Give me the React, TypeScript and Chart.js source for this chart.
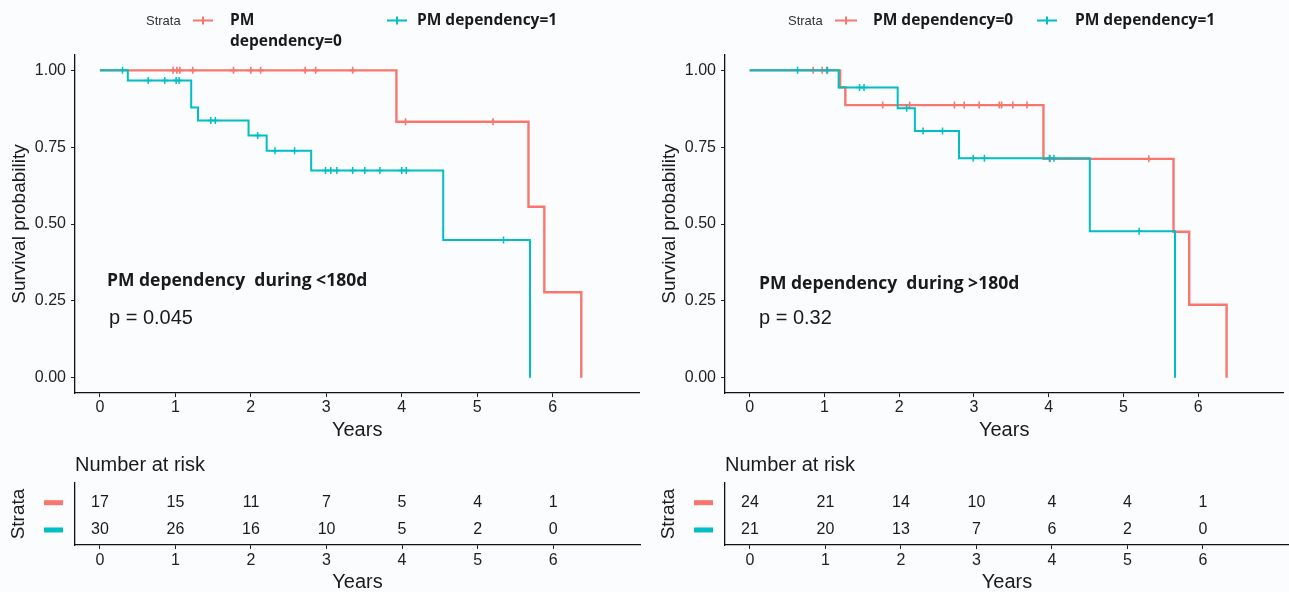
import React, { useEffect, useRef } from "react";
import { Chart, registerables } from "chart.js";

Chart.register(...registerables);

// ---------- data ----------
const RED = "#F8766D";
const BLUE = "#00BFC4";

const xTicks = [0, 1, 2, 3, 4, 5, 6];
const yTicks = [0, 0.25, 0.5, 0.75, 1];

// Left panel (<180d)
const leftRedTimes = [0, 3.93, 5.68, 5.89, 6.38];
const leftRedSurv = [1, 0.833, 0.556, 0.278, 0];
const leftRedCensor = [0.97, 1.02, 1.06, 1.23, 1.77, 2.0, 2.13, 2.72, 2.86, 3.35, 4.05, 5.21];

const leftBlueTimes = [0, 0.37, 1.21, 1.3, 1.97, 2.21, 2.8, 4.55, 5.7];
const leftBlueSurv = [1, 0.967, 0.879, 0.837, 0.788, 0.738, 0.674, 0.448, 0];
const leftBlueCensor = [0.3, 0.64, 0.86, 1.01, 1.05, 1.47, 1.53, 2.09, 2.32, 2.58, 2.99, 3.06, 3.14, 3.35, 3.51, 3.71, 4.0, 4.06, 5.35];

const leftRiskRed = [17, 15, 11, 7, 5, 4, 1];
const leftRiskBlue = [30, 26, 16, 10, 5, 2, 0];

// Right panel (>180d)
const rightRedTimes = [0, 1.21, 1.28, 3.93, 5.67, 5.88, 6.38];
const rightRedSurv = [1, 0.945, 0.887, 0.712, 0.475, 0.237, 0];
const rightRedCensor = [0.85, 0.97, 1.03, 1.78, 2.14, 2.74, 2.87, 3.07, 3.34, 3.37, 3.52, 3.71, 4.02, 5.34];

const rightBlueTimes = [0, 1.19, 1.98, 2.21, 2.8, 4.55, 5.69];
const rightBlueSurv = [1, 0.944, 0.877, 0.803, 0.714, 0.476, 0];
const rightBlueCensor = [0.64, 1.04, 1.47, 1.53, 2.1, 2.32, 2.58, 2.99, 3.14, 4.01, 4.07, 5.21];

const rightRiskRed = [24, 21, 14, 10, 4, 4, 1];
const rightRiskBlue = [21, 20, 13, 7, 6, 2, 0];

const strataLabels = ["PM dependency=0", "PM dependency=1"];

// ---------- helpers ----------
const REG = "'Liberation Sans', Arial, sans-serif";
const BOLD = "'Open Sans', 'Noto Sans', sans-serif";
const TXT = "#1a1a1a";

function steps(times: number[], surv: number[]) {
  return times.map((t, i) => ({ x: t, y: surv[i] }));
}
function survAt(times: number[], surv: number[], t: number) {
  let s = surv[0];
  for (let i = 0; i < times.length; i++) if (times[i] <= t) s = surv[i];
  return s;
}
function censorPts(times: number[], surv: number[], cens: number[]) {
  return cens.map((t) => ({ x: t, y: survAt(times, surv, t) }));
}

type TextItem = { text: string; x: number; y: number; font: string; color?: string; align?: CanvasTextAlign };
type KeyItem = { x1: number; x2: number; y: number; color: string };

const textPlugin = {
  id: "panelText",
  afterDraw(chart: any) {
    const o = chart.options.plugins.panelText;
    if (!o) return;
    const ctx = chart.ctx;
    ctx.save();
    (o.keys || []).forEach((k: KeyItem) => {
      ctx.strokeStyle = k.color;
      ctx.lineWidth = 2;
      ctx.beginPath();
      ctx.moveTo(k.x1, k.y);
      ctx.lineTo(k.x2, k.y);
      const cx = (k.x1 + k.x2) / 2;
      ctx.moveTo(cx, k.y - 4);
      ctx.lineTo(cx, k.y + 4);
      ctx.stroke();
    });
    (o.items || []).forEach((it: TextItem) => {
      ctx.font = it.font;
      ctx.fillStyle = it.color || TXT;
      ctx.textAlign = it.align || "left";
      ctx.textBaseline = "middle";
      ctx.fillText(it.text, it.x, it.y);
    });
    // risk table: bars + numbers
    if (o.risk) {
      const ys = chart.scales.y;
      chart.data.datasets.forEach((ds: any, di: number) => {
        const y = ys.getPixelForValue(ds.data[0].y);
        ctx.fillStyle = ds.rowColor;
        ctx.fillRect(o.risk.barX1, y - 2.5, o.risk.barX2 - o.risk.barX1, 5);
        const meta = chart.getDatasetMeta(di);
        ctx.font = "16px " + REG;
        ctx.fillStyle = TXT;
        ctx.textAlign = "center";
        ctx.textBaseline = "middle";
        meta.data.forEach((pt: any, j: number) => {
          ctx.fillText(String(ds.counts[j]), pt.x, pt.y);
        });
      });
    }
    ctx.restore();
  },
};

function axisX(min: number, max: number, height: number, tickPad: number, titlePad: number) {
  return {
    type: "linear",
    min,
    max,
    afterBuildTicks: (s: any) => {
      s.ticks = xTicks.map((v) => ({ value: v }));
    },
    afterFit: (s: any) => {
      s.height = height;
    },
    grid: { display: true, drawOnChartArea: false, drawTicks: true, tickLength: 4, color: "#222", lineWidth: 1 },
    border: { display: true, color: "#111", width: 1.3 },
    ticks: { font: { family: REG, size: 16 }, color: "#222", padding: tickPad, maxRotation: 0, autoSkip: false, callback: (v: any) => String(v) },
    title: { display: true, text: "Years", font: { family: REG, size: 20, lineHeight: 1 }, color: TXT, padding: { top: 0, bottom: titlePad } },
  };
}

function KMPanel(props: any) {
  const ref = useRef<HTMLCanvasElement>(null);
  useEffect(() => {
    const p = props;
    const chart = new Chart(ref.current as HTMLCanvasElement, {
      type: "line",
      data: {
        datasets: [
          { label: strataLabels[1] + " censored", type: "scatter", data: censorPts(p.blueT, p.blueS, p.blueC), pointStyle: "cross", pointRadius: 3.5, pointBorderWidth: 1.5, borderColor: BLUE, backgroundColor: BLUE, showLine: false, order: 0 },
          { label: strataLabels[1], data: steps(p.blueT, p.blueS), borderColor: BLUE, borderWidth: 2, stepped: "before", pointRadius: 0, fill: false, order: 1 },
          { label: strataLabels[0] + " censored", type: "scatter", data: censorPts(p.redT, p.redS, p.redC), pointStyle: "cross", pointRadius: 3.5, pointBorderWidth: 1.6, borderColor: RED, backgroundColor: RED, showLine: false, order: 2 },
          { label: strataLabels[0], data: steps(p.redT, p.redS), borderColor: RED, borderWidth: 2.4, stepped: "before", pointRadius: 0, fill: false, order: 3 },
        ] as any,
      },
      options: {
        animation: false,
        responsive: false,
        maintainAspectRatio: false,
        devicePixelRatio: 1,
        layout: { padding: { left: 0, top: 55, right: p.padRight, bottom: 0 } },
        plugins: {
          legend: { display: false },
          tooltip: { enabled: false },
          panelText: { items: p.items, keys: p.keys },
        } as any,
        scales: {
          x: axisX(-0.33, p.xMax, 52, 1, 5) as any,
          y: {
            type: "linear",
            min: -0.05,
            max: 1.05,
            afterBuildTicks: (s: any) => {
              s.ticks = yTicks.map((v) => ({ value: v }));
            },
            afterFit: (s: any) => {
              s.width = 75;
            },
            grid: { display: true, drawOnChartArea: false, drawTicks: true, tickLength: 4, color: "#222", lineWidth: 1 },
            border: { display: true, color: "#111", width: 1.3 },
            ticks: { font: { family: REG, size: 16 }, color: "#222", padding: 5, callback: (v: any) => Number(v).toFixed(2) },
            title: { display: true, text: "Survival probability", font: { family: REG, size: 19, lineHeight: 1.2 }, color: TXT, padding: { top: 8.6, bottom: 0 } },
          },
        },
      },
      plugins: [textPlugin],
    });
    return () => chart.destroy();
  }, []);
  return (
    <canvas
      ref={ref}
      width={props.width}
      height={445}
      style={{ position: "absolute", left: props.left, top: 0, width: props.width, height: 445 }}
    />
  );
}

function RiskPanel(props: any) {
  const ref = useRef<HTMLCanvasElement>(null);
  useEffect(() => {
    const p = props;
    const chart = new Chart(ref.current as HTMLCanvasElement, {
      type: "scatter",
      data: {
        datasets: [
          { label: strataLabels[0], data: xTicks.map((t) => ({ x: t, y: 2 })), counts: p.red, rowColor: RED, pointRadius: 0 },
          { label: strataLabels[1], data: xTicks.map((t) => ({ x: t, y: 1 })), counts: p.blue, rowColor: BLUE, pointRadius: 0 },
        ] as any,
      },
      options: {
        animation: false,
        responsive: false,
        maintainAspectRatio: false,
        devicePixelRatio: 1,
        layout: { padding: { left: 0, top: 38, right: p.padRight, bottom: 0 } },
        plugins: {
          legend: { display: false },
          tooltip: { enabled: false },
          panelText: {
            items: [{ text: "Number at risk", x: 75, y: 20, font: "20px " + REG }],
            risk: { barX1: 44, barX2: 63 },
          },
        } as any,
        scales: {
          x: axisX(-0.33, p.xMax, 47, 2, 0) as any,
          y: {
            type: "linear",
            min: 0.45,
            max: 2.72,
            afterFit: (s: any) => {
              s.width = 75;
            },
            grid: { display: false },
            border: { display: true, color: "#111", width: 1.3 },
            ticks: { display: false },
            title: { display: true, text: "Strata", font: { family: REG, size: 19, lineHeight: 1.2 }, color: TXT, padding: { top: 7.3, bottom: 0 } },
          },
        },
      },
      plugins: [textPlugin],
    });
    return () => chart.destroy();
  }, []);
  return (
    <canvas
      ref={ref}
      width={props.width}
      height={147}
      style={{ position: "absolute", left: props.left, top: 445, width: props.width, height: 147 }}
    />
  );
}

const boldLegend = "bold 15.5px " + BOLD;
const boldNote = "bold 17.5px " + BOLD;
const strataFont = "13px " + REG;
const pFont = "20px " + REG;

export default function App() {
  useEffect(() => {
    document.body.style.margin = "0";
    document.body.style.background = "#fbfcfe";
  }, []);
  const leftItems = [
    { text: "Strata", x: 146, y: 21, font: strataFont, color: "#333" },
    { text: "PM", x: 230, y: 21, font: boldLegend },
    { text: "dependency=0", x: 230, y: 41.5, font: boldLegend },
    { text: strataLabels[1], x: 417, y: 21, font: boldLegend },
    { text: "PM dependency  during <180d", x: 107, y: 281, font: boldNote },
    { text: "p = 0.045", x: 109, y: 318, font: pFont },
  ];
  const leftKeys = [
    { x1: 193, x2: 213, y: 20.5, color: RED },
    { x1: 387, x2: 407, y: 20.5, color: BLUE },
  ];
  const rightItems = [
    { text: "Strata", x: 138, y: 21, font: strataFont, color: "#333" },
    { text: strataLabels[0], x: 223, y: 21, font: boldLegend },
    { text: strataLabels[1], x: 425, y: 21, font: boldLegend },
    { text: "PM dependency  during >180d", x: 109, y: 284, font: boldNote },
    { text: "p = 0.32", x: 109, y: 318, font: pFont },
  ];
  const rightKeys = [
    { x1: 185, x2: 207, y: 20.5, color: RED },
    { x1: 387, x2: 407, y: 20.5, color: BLUE },
  ];
  return (
    <div style={{ position: "relative", width: 1289, height: 592, background: "#fbfcfe", overflow: "hidden" }}>
      <KMPanel
        left={0}
        width={645}
        padRight={5}
        xMax={7.15}
        redT={leftRedTimes}
        redS={leftRedSurv}
        redC={leftRedCensor}
        blueT={leftBlueTimes}
        blueS={leftBlueSurv}
        blueC={leftBlueCensor}
        items={leftItems}
        keys={leftKeys}
      />
      <KMPanel
        left={650}
        width={639}
        padRight={0}
        xMax={7.14}
        redT={rightRedTimes}
        redS={rightRedSurv}
        redC={rightRedCensor}
        blueT={rightBlueTimes}
        blueS={rightBlueSurv}
        blueC={rightBlueCensor}
        items={rightItems}
        keys={rightKeys}
      />
      <RiskPanel left={0} width={645} padRight={5} xMax={7.15} red={leftRiskRed} blue={leftRiskBlue} />
      <RiskPanel left={650} width={639} padRight={0} xMax={7.14} red={rightRiskRed} blue={rightRiskBlue} />
    </div>
  );
}
